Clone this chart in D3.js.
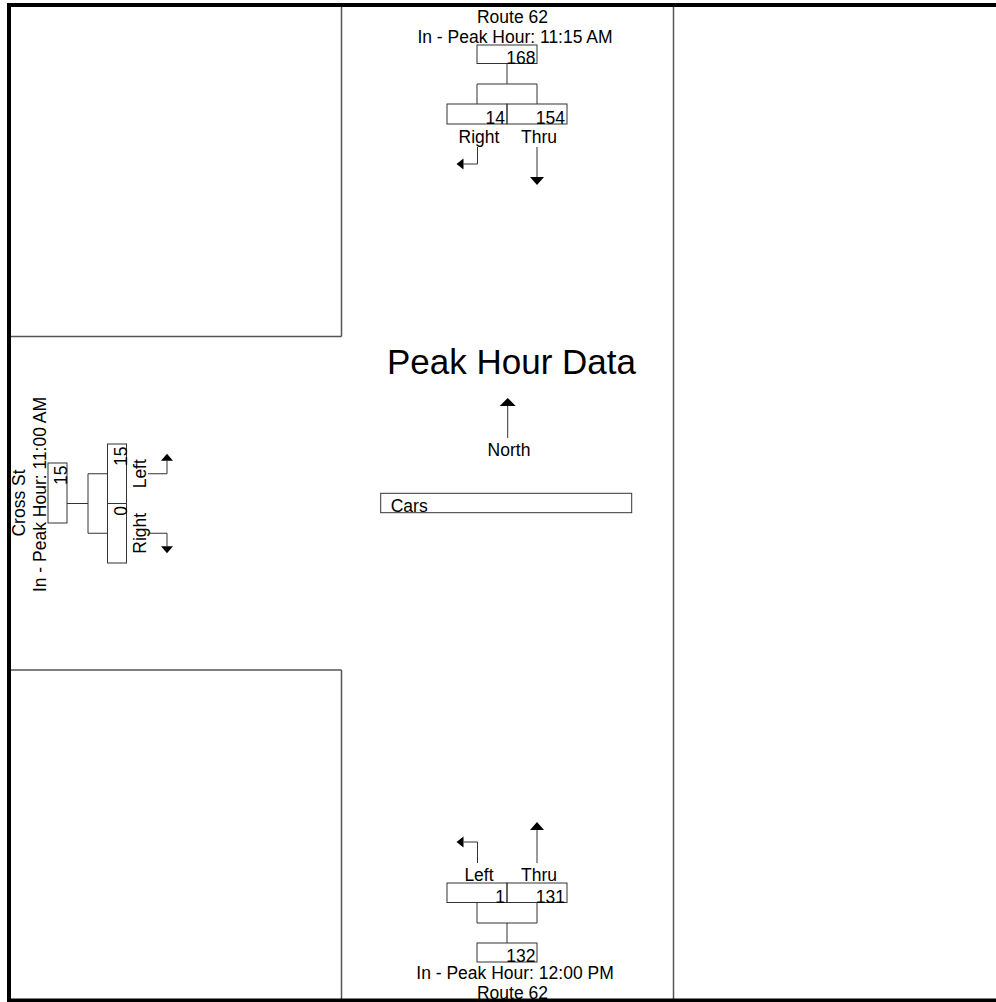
<!DOCTYPE html>
<html>
<head>
<meta charset="utf-8">
<script src="https://cdn.jsdelivr.net/npm/d3@7/dist/d3.min.js"></script>
<style>
html,body{margin:0;padding:0;background:#fff;}
svg{display:block;}
text{font-family:"Liberation Sans",Arial,Helvetica,sans-serif;fill:#000;}
</style>
</head>
<body>
<svg id="chart" width="996" height="1002"></svg>
<script>
// ---- data ----
const title = "Peak Hour Data";
const northLabel = "North";
const legendItems = ["Cars"];

const topStreet = "Route 62";
const topPeak = "In - Peak Hour: 11:15 AM";
const topMoves = ["Right", "Thru"];
const topVolumes = [14, 154];
const topIn = 168;

const bottomStreet = "Route 62";
const bottomPeak = "In - Peak Hour: 12:00 PM";
const bottomMoves = ["Left", "Thru"];
const bottomVolumes = [1, 131];
const bottomIn = 132;

const leftStreet = "Cross St";
const leftPeak = "In - Peak Hour: 11:00 AM";
const leftMoves = ["Left", "Right"];
const leftVolumes = [15, 0];
const leftIn = 15;

// ---- drawing ----
const svg = d3.select("#chart");
const FS = 17.5;
const boxStroke = "#333";
const lineStroke = "#333";

function box(x, y, w, h) {
  svg.append("rect").attr("x", x).attr("y", y).attr("width", w).attr("height", h)
    .attr("fill", "none").attr("stroke", boxStroke).attr("stroke-width", 1);
}
function line(x1, y1, x2, y2, c, w) {
  svg.append("line").attr("x1", x1).attr("y1", y1).attr("x2", x2).attr("y2", y2)
    .attr("stroke", c || lineStroke).attr("stroke-width", w || 1);
}
function txt(s, x, y, anchor, size, rot) {
  const t = svg.append("text").attr("font-size", size || FS)
    .attr("text-anchor", anchor || "middle").text(s);
  if (rot) t.attr("transform", `translate(${x},${y}) rotate(${rot})`);
  else t.attr("x", x).attr("y", y);
  return t;
}
function path(d) {
  svg.append("path").attr("d", d).attr("fill", "none").attr("stroke", lineStroke).attr("stroke-width", 1);
}
function tri(pts) {
  svg.append("path").attr("d", "M" + pts.map(p => p.join(",")).join("L") + "Z").attr("fill", "#000");
}

// roads / blocks
line(341.5, 5, 341.5, 336.5, "#555", 1.5);
line(9, 336.5, 341.5, 336.5, "#555", 1.5);
line(9, 670, 341.5, 670, "#555", 1.5);
line(341.5, 670, 341.5, 1000, "#555", 1.5);
line(673.5, 5, 673.5, 1000, "#555", 1.5);

// ---- top approach (southbound) ----
{
  const x = d3.scaleBand().domain(topMoves).range([447, 567]);
  const bw = x.bandwidth();
  const mid = (x.range()[0] + x.range()[1]) / 2;
  txt(topStreet, 512.5, 22.5);
  txt(topPeak, 515, 42.5);
  box(mid - bw / 2, 45, bw, 18.5);
  txt(topIn, mid + bw / 2 - 1.5, 63.5, "end");
  line(mid, 63.5, mid, 84);
  const c = topMoves.map(m => x(m) + bw / 2);
  line(d3.min(c), 84, d3.max(c), 84);
  topMoves.forEach((m, i) => {
    const cx = x(m) + bw / 2;
    line(cx, 84, cx, 104);
    box(x(m), 104, bw, 20);
    txt(topVolumes[i], x(m) + bw - 2, 124, "end");
    txt(m, cx + 2, 142.5);
    if (m === "Thru") {
      path(`M${cx},147V177`);
      tri([[cx, 185], [cx - 7, 177], [cx + 7, 177]]);
    } else {
      const dir = m === "Right" ? -1 : 1;
      path(`M${cx + 0.5},147V164H${cx + dir * 13.5}`);
      tri([[cx + dir * 20.5, 164], [cx + dir * 13.5, 158.5], [cx + dir * 13.5, 169.5]]);
    }
  });
}

// ---- bottom approach (northbound) ----
{
  const x = d3.scaleBand().domain(bottomMoves).range([447, 567]);
  const bw = x.bandwidth();
  const mid = (x.range()[0] + x.range()[1]) / 2;
  bottomMoves.forEach((m, i) => {
    const cx = x(m) + bw / 2;
    if (m === "Thru") {
      path(`M${cx},863V830`);
      tri([[cx, 822], [cx - 7, 830], [cx + 7, 830]]);
    } else {
      const dir = m === "Left" ? -1 : 1;
      path(`M${cx + 0.5},863V842H${cx + dir * 13.5}`);
      tri([[cx + dir * 20.5, 842], [cx + dir * 13.5, 836.5], [cx + dir * 13.5, 847.5]]);
    }
    txt(m, cx + 2, 880.5);
    box(x(m), 883, bw, 19.5);
    txt(bottomVolumes[i], x(m) + bw - 2, 902.5, "end");
    line(cx, 902.5, cx, 923);
  });
  const c = bottomMoves.map(m => x(m) + bw / 2);
  line(d3.min(c), 923, d3.max(c), 923);
  line(mid, 923, mid, 943);
  box(mid - bw / 2, 943, bw, 19);
  txt(bottomIn, mid + bw / 2 - 1.5, 962, "end");
  txt(bottomPeak, 515, 978.5);
  txt(bottomStreet, 512.5, 998.5);
}

// ---- left approach (eastbound) ----
{
  const y = d3.scaleBand().domain(leftMoves).range([444, 563]);
  const bh = y.bandwidth();
  txt(leftStreet, 25, 503, "middle", FS, -90);
  txt(leftPeak, 45.5, 494.5, "middle", FS, -90);
  box(48, 463, 19, 60);
  txt(leftIn, 66.5, 465.5, "end", FS, -90);
  const c = leftMoves.map(m => y(m) + bh / 2);
  const cmid = (d3.min(c) + d3.max(c)) / 2;
  line(67, cmid, 88, cmid);
  line(88, d3.min(c), 88, d3.max(c));
  leftMoves.forEach((m, i) => {
    const cy = y(m) + bh / 2;
    line(88, cy, 107.5, cy);
    box(107.5, y(m), 19, bh);
    txt(leftVolumes[i], 126.5, y(m) + 2.5, "end", FS, -90);
    txt(m, 146, cy, "middle", FS, -90);
    const dir = m === "Left" ? -1 : 1;
    path(`M148,${cy}H167V${cy + dir * 13}`);
    tri([[167, cy + dir * 20], [161, cy + dir * 13], [173, cy + dir * 13]]);
  });
}

// ---- center: title, north arrow, legend ----
txt(title, 511.5, 374, "middle", 35);
line(507.7, 438, 507.7, 405);
tri([[507.7, 398], [499.7, 406], [515.7, 406]]);
txt(northLabel, 509, 455.5);
legendItems.forEach((d, i) => {
  box(380.7, 493.3 + i * 22, 251, 19.4);
  txt(d, 390.7, 511.7 + i * 22, "start");
});

// ---- outer frame ----
svg.append("rect").attr("x", 9).attr("y", 5).attr("width", 995).attr("height", 995.5)
  .attr("fill", "none").attr("stroke", "#000").attr("stroke-width", 4);
</script>
</body>
</html>
